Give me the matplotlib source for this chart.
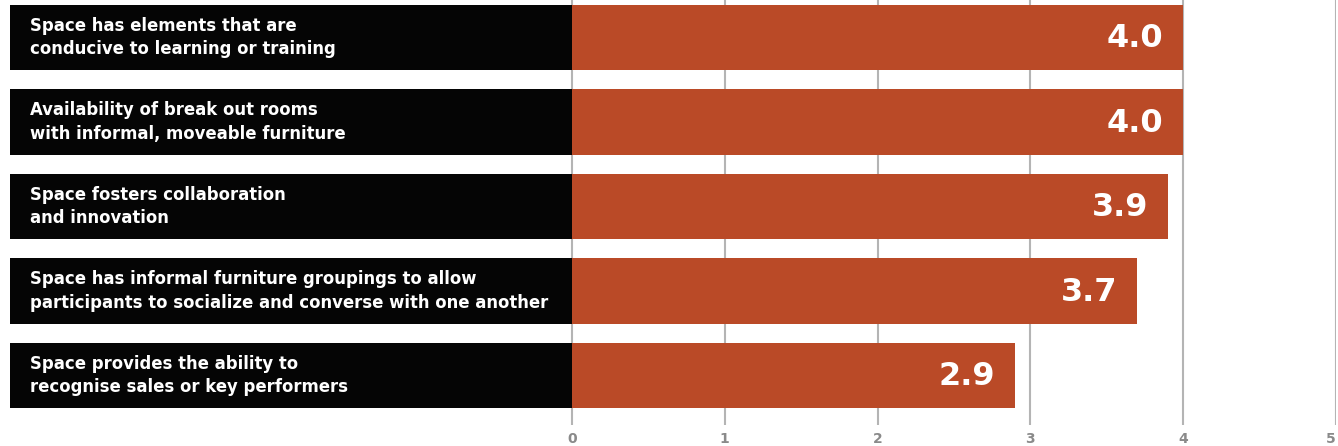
import matplotlib.pyplot as plt

# survey items and mean scores (0-5 scale)
labels = [
    "Space has elements that are\nconducive to learning or training",
    "Availability of break out rooms\nwith informal, moveable furniture",
    "Space fosters collaboration\nand innovation",
    "Space has informal furniture groupings to allow\nparticipants to socialize and converse with one another",
    "Space provides the ability to\nrecognise sales or key performers",
]
scores = [4.0, 4.0, 3.9, 3.7, 2.9]
ticks = [0, 1, 2, 3, 4, 5]

ORANGE = "#BA4A27"
BLACK = "#050505"
GRID = "#b4b4b4"
FONT = "DejaVu Sans"

W, H = 1338, 446
fig = plt.figure(figsize=(W / 100, H / 100), dpi=100)
ax = fig.add_axes([10 / W, 21 / H, 1326 / W, 425 / H])

label_w = 3.678  # width of the black label panel, in score units
ax.set_xlim(-label_w, 5)
ax.set_ylim(4.586, -0.444)

rows = range(len(scores))
for x in ticks:
    ax.axvline(x, color=GRID, lw=1.5, zorder=0)

ax.barh(rows, [label_w] * len(scores), left=-label_w, height=0.77,
        color=BLACK, zorder=2)
ax.barh(rows, scores, height=0.77, color=ORANGE, zorder=2)

for i, (lab, v) in enumerate(zip(labels, scores)):
    ax.annotate(lab, (-label_w, i), xytext=(14.5, 0), textcoords="offset points",
                ha="left", va="center", color="white", fontsize=11.9,
                fontweight="bold", family=FONT, linespacing=1.42, zorder=3)
    ax.annotate(f"{v:.1f}", (v, i), xytext=(-14.5, -1), textcoords="offset points",
                ha="right", va="center", color="white", fontsize=23,
                fontweight="bold", family=FONT, zorder=3)

ax.set_xticks(ticks)
ax.set_xticklabels([str(t) for t in ticks], color="#8a8a8a", fontsize=10,
                   fontweight="bold", family=FONT)
ax.get_xticklabels()[-1].set_horizontalalignment("right")
ax.tick_params(axis="x", length=0, pad=5)
ax.set_yticks([])
for s in ax.spines.values():
    s.set_visible(False)

fig.savefig("out.png", dpi=100)
